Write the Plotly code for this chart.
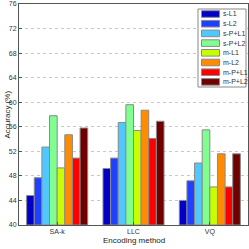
import plotly.graph_objects as go

categories = ["SA-k", "LLC", "VQ"]
series_names = ["s-L1", "s-L2", "s-P+L1", "s-P+L2", "m-L1", "m-L2", "m-P+L1", "m-P+L2"]
s_L1 = [44.8, 49.2, 44.0]
s_L2 = [47.7, 50.9, 47.2]
s_PL1 = [52.7, 56.7, 50.1]
s_PL2 = [57.8, 59.6, 55.5]
m_L1 = [49.3, 55.4, 46.2]
m_L2 = [54.7, 58.7, 51.6]
m_PL1 = [50.9, 54.1, 46.2]
m_PL2 = [55.8, 56.9, 51.6]
series_values = [s_L1, s_L2, s_PL1, s_PL2, m_L1, m_L2, m_PL1, m_PL2]
colors = ["#0000c8", "#2040ff", "#50c8ff", "#80ff90", "#c8ff00", "#ff8c00", "#ff0000", "#700000"]
y_ticks = [40, 44, 48, 52, 56, 60, 64, 68, 72, 76]

W, H = 249, 249
L, R, T, B = 19, 1, 4, 24
pw, ph = W - L - R, H - T - B


def px(x):
    return (x - L) / pw


def py(y):
    return 1 - (y - T) / ph


fig = go.Figure()
for name, vals, col in zip(series_names, series_values, colors):
    fig.add_trace(go.Bar(
        x=[1, 2, 3], y=[v - 40 for v in vals], base=40, name=name,
        marker=dict(color=col, line=dict(color="#8a8a8a", width=1)),
        showlegend=False,
    ))

shapes = []
annotations = []
# legend box
shapes.append(dict(type="rect", xref="paper", yref="paper",
                   x0=px(198), x1=px(246), y0=py(87), y1=py(9),
                   fillcolor="white", line=dict(color="#888", width=1), layer="above"))
for i, (name, col) in enumerate(zip(series_names, colors)):
    cy = 14 + i * 9.7
    shapes.append(dict(type="rect", xref="paper", yref="paper",
                       x0=px(201.5), x1=px(219.5), y0=py(cy + 3.3), y1=py(cy - 3.3),
                       fillcolor=col, line=dict(color="#8a8a8a", width=1), layer="above"))
    annotations.append(dict(xref="paper", yref="paper", x=px(221), y=py(cy),
                            xanchor="left", yanchor="middle", text=name, showarrow=False,
                            font=dict(size=7, color="#333")))

annotations.append(dict(xref="paper", yref="paper", x=0.5, y=py(247),
                        xanchor="center", yanchor="bottom", text="Encoding method",
                        showarrow=False, font=dict(size=8, color="#222")))
annotations.append(dict(xref="paper", yref="paper", x=px(7), y=0.5, textangle=-90,
                        xanchor="center", yanchor="middle", text="Accuracy (%)",
                        showarrow=False, font=dict(size=8, color="#222")))

fig.update_layout(
    width=W, height=H,
    margin=dict(l=L, r=R, t=T, b=B, autoexpand=False),
    paper_bgcolor="white", plot_bgcolor="white",
    barmode="group", bargap=0.2, bargroupgap=0.0,
    font=dict(family="Liberation Sans, Arial, sans-serif", size=7, color="#333"),
    showlegend=False,
    shapes=shapes, annotations=annotations,
    xaxis=dict(
        range=[0.5, 3.5], tickvals=[1, 2, 3], ticktext=categories,
        showline=True, linecolor="#555", linewidth=1, mirror=True,
        ticks="inside", ticklen=3, tickcolor="#555",
        showgrid=False, zeroline=False, automargin=False,
    ),
    yaxis=dict(
        range=[40, 76], tickvals=y_ticks,
        showline=True, linecolor="#555", linewidth=1, mirror=True,
        ticks="inside", ticklen=3, tickcolor="#555",
        showgrid=True, gridcolor="#c8c8c8", griddash="dot", gridwidth=1,
        zeroline=False, automargin=False,
    ),
)

fig.write_html("out.html", config={"displayModeBar": False},
               post_script="document.body.style.margin='0';document.body.style.padding='0';")
